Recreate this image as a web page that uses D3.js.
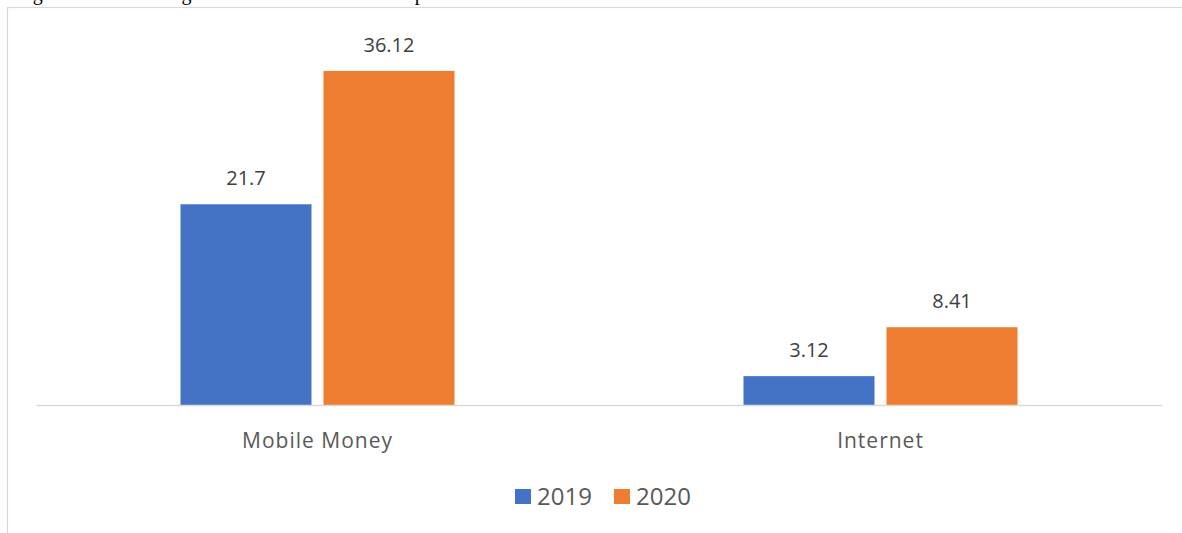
<!DOCTYPE html>
<html>
<head>
<meta charset="utf-8">
<script src="https://cdn.jsdelivr.net/npm/d3@7"></script>
<style>
  html, body { margin: 0; padding: 0; background: #fff; overflow: hidden; }
  svg { display: block; }
</style>
</head>
<body>
<svg id="chart" width="1182" height="533"></svg>
<script>
// Data
const categories = ["Mobile Money", "Internet"];
const seriesNames = ["2019", "2020"];
const values2019 = [21.7, 3.12];
const values2020 = [36.12, 8.41];
const valueLabels2019 = ["21.7", "3.12"];
const valueLabels2020 = ["36.12", "8.41"];
const colors = ["#4472C4", "#ED7D31"];
const caption = "Figure 3: Trend in digital finance and internet adoption";

const svg = d3.select("#chart");
const W = 1182, H = 533;

// Caption line above the chart frame (runs off the top edge)
svg.append("text")
  .attr("x", 16).attr("y", -0.5)
  .attr("font-family", "'Liberation Serif', 'Times New Roman', serif")
  .attr("font-size", 20)
  .attr("fill", "#000")
  .text(caption);

// Chart frame
svg.append("rect")
  .attr("x", 7.5).attr("y", 7.5)
  .attr("width", W + 10).attr("height", H + 10)
  .attr("fill", "#fff")
  .attr("stroke", "#d9d9d9").attr("stroke-width", 1.2);

const plot = { left: 36, right: 1162, top: 35, bottom: 405 };

const x = d3.scaleBand().domain(categories).range([plot.left, plot.right]).padding(0);
const y = d3.scaleLinear().domain([0, 40]).range([plot.bottom, plot.top]);

const groupWidth = 274;
const xInner = d3.scaleBand().domain(seriesNames).range([0, groupWidth]).paddingInner(0.0839).paddingOuter(0);

const rows = categories.map((c, i) => ({
  category: c,
  values: [
    { series: seriesNames[0], value: values2019[i], label: valueLabels2019[i], color: colors[0] },
    { series: seriesNames[1], value: values2020[i], label: valueLabels2020[i], color: colors[1] }
  ]
}));

const groups = svg.append("g").selectAll("g")
  .data(rows).join("g")
  .attr("transform", d => `translate(${x(d.category) + x.bandwidth() / 2 - groupWidth / 2},0)`);

groups.selectAll("rect")
  .data(d => d.values).join("rect")
  .attr("x", d => xInner(d.series))
  .attr("y", d => y(d.value))
  .attr("width", xInner.bandwidth())
  .attr("height", d => y(0) - y(d.value))
  .attr("fill", d => d.color);

groups.selectAll("text.val")
  .data(d => d.values).join("text")
  .attr("class", "val")
  .attr("x", d => xInner(d.series) + xInner.bandwidth() / 2)
  .attr("y", d => y(d.value) - 19)
  .attr("text-anchor", "middle")
  .attr("font-family", "'Open Sans', sans-serif")
  .attr("font-size", 20)
  .attr("fill", "#404040")
  .text(d => d.label);

// Category axis
const axis = svg.append("g")
  .attr("transform", `translate(0,${plot.bottom})`)
  .call(d3.axisBottom(x).tickSize(0).tickPadding(0));
axis.select(".domain").attr("stroke", "#d9d9d9").attr("stroke-width", 1.5);
axis.selectAll(".tick text")
  .attr("dy", 0).attr("y", 43)
  .attr("font-family", "'Open Sans', sans-serif")
  .attr("font-size", 21)
  .attr("letter-spacing", 1)
  .attr("fill", "#595959");

// Legend
const legendItems = [
  { name: seriesNames[0], color: colors[0], x: 515 },
  { name: seriesNames[1], color: colors[1], x: 614 }
];
const legend = svg.append("g").selectAll("g").data(legendItems).join("g")
  .attr("transform", d => `translate(${d.x},0)`);
legend.append("rect")
  .attr("x", 0).attr("y", 489).attr("width", 16).attr("height", 15)
  .attr("fill", d => d.color);
legend.append("text")
  .attr("x", 22).attr("y", 505)
  .attr("font-family", "'Open Sans', sans-serif")
  .attr("font-size", 24)
  .attr("fill", "#595959")
  .text(d => d.name);
</script>
</body>
</html>
